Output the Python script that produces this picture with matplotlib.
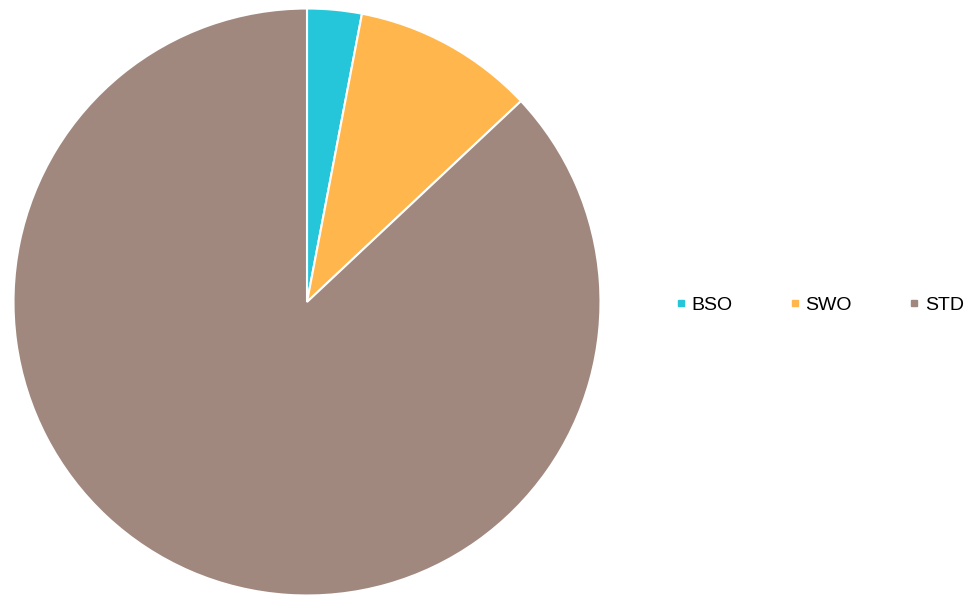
import matplotlib
matplotlib.use("Agg")
import matplotlib.pyplot as plt
from matplotlib.lines import Line2D

categories = ["BSO", "SWO", "STD"]
values = [3, 10, 87]
colors = ["#26C6DA", "#FFB74D", "#A1887F"]

plt.rcParams['font.family'] = ['Liberation Sans', 'DejaVu Sans']

W, H = 971, 595
fig = plt.figure(figsize=(W / 100, H / 100), dpi=100)
cx, cy, r = 307, 302, 293.5
ax = fig.add_axes([(cx - r) / W, (H - cy - r) / H, 2 * r / W, 2 * r / H])
ax.pie(values, colors=colors, startangle=90, counterclock=False,
       wedgeprops=dict(edgecolor="white", linewidth=1.5), radius=1)
ax.set_xlim(-1, 1)
ax.set_ylim(-1, 1)
ax.set_aspect("equal")
ax.axis("off")

handles = [Line2D([0], [0], marker="s", linestyle="none", markersize=5,
                  markerfacecolor=c, markeredgecolor=c) for c in colors]
fig.legend(handles, categories, loc="center left",
           bbox_to_anchor=(675 / W, (H - 305) / H), ncol=3, frameon=False,
           fontsize=14, handlelength=0.6, handletextpad=0.25,
           columnspacing=2.9, borderaxespad=0, borderpad=0)

fig.savefig("out.png", dpi=100)
